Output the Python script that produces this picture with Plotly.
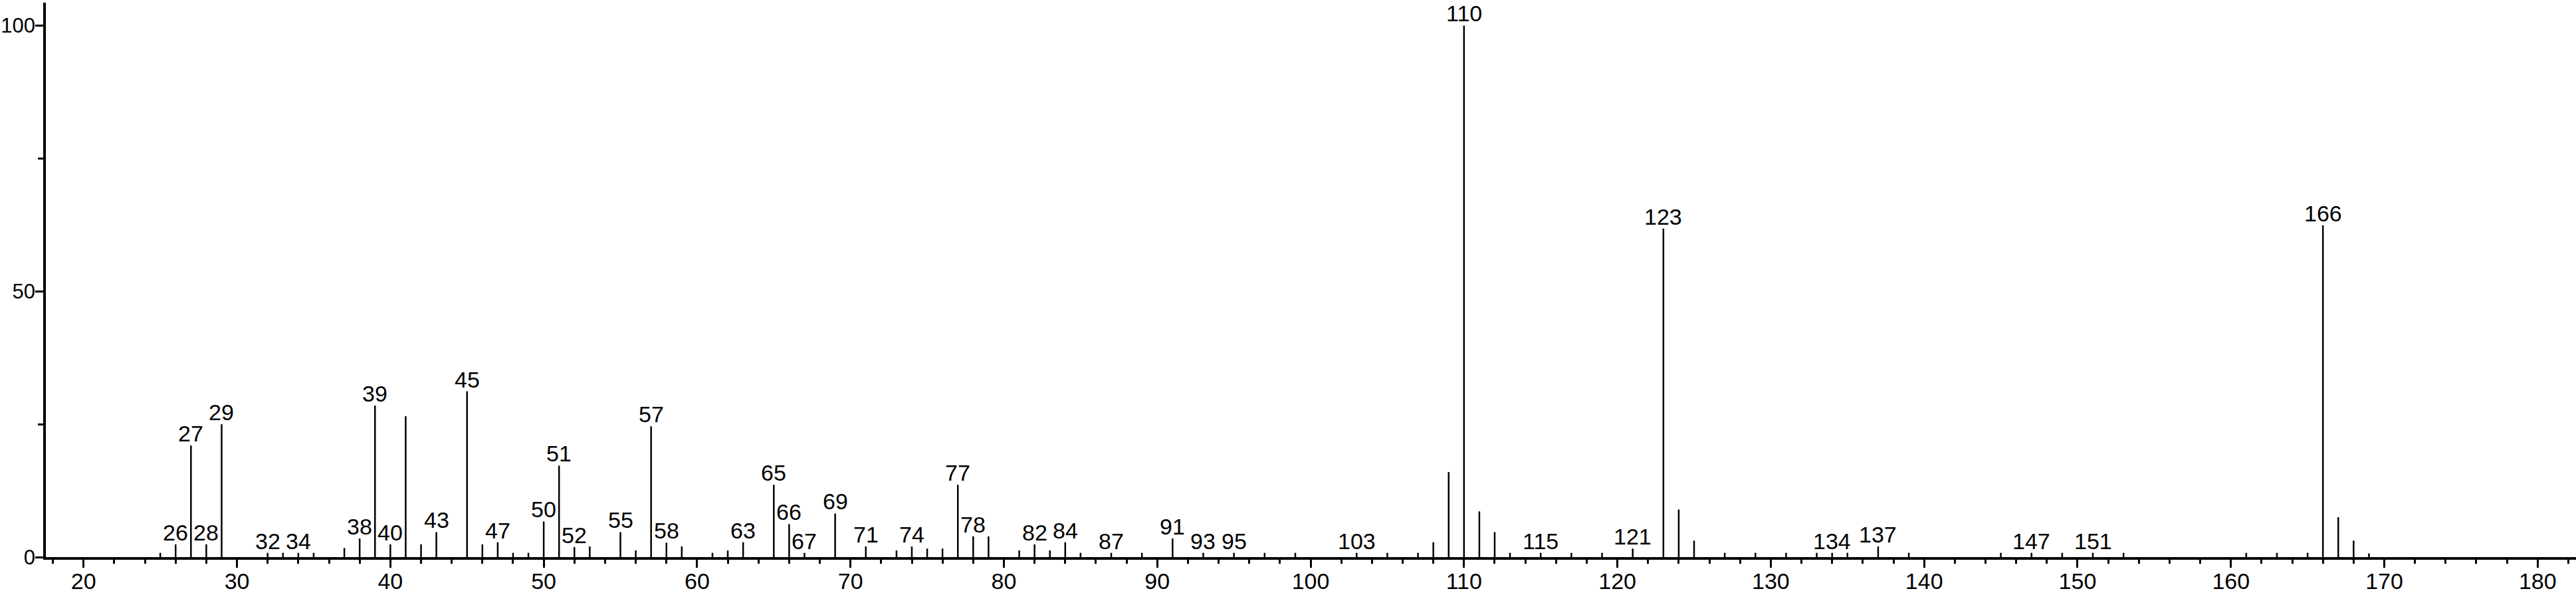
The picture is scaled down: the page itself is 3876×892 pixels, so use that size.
import plotly.graph_objects as go

# m/z values and relative intensities (%)
mz = [25, 26, 27, 28, 29, 32, 33, 34, 35, 37, 38, 39, 40, 41, 42, 43, 45, 46, 47, 48, 49,
      50, 51, 52, 53, 55, 56, 57, 58, 59, 61, 62, 63, 65, 66, 67, 69, 71, 73, 74, 75, 76,
      77, 78, 79, 81, 82, 83, 84, 85, 87, 89, 91, 93, 95, 97, 99, 103, 105, 107, 108, 109,
      110, 111, 112, 113, 115, 117, 119, 121, 123, 124, 125, 127, 129, 131, 133, 134, 135,
      137, 139, 145, 147, 149, 151, 153, 161, 163, 165, 166, 167, 168, 169]
intensity = [0.8, 2.4, 21.0, 2.4, 25.0, 0.8, 0.8, 0.8, 0.8, 1.7, 3.5, 28.5, 2.4, 26.5, 2.4, 4.7,
             31.2, 2.4, 2.8, 0.8, 0.8, 6.7, 17.2, 1.9, 2.0, 4.7, 1.25, 24.6, 2.7, 2.0, 0.8,
             1.25, 2.8, 13.6, 6.2, 0.8, 8.2, 2.0, 1.25, 2.0, 1.6, 1.6, 13.6, 3.9, 3.9, 1.25,
             2.4, 1.25, 2.8, 0.8, 0.8, 0.8, 3.5, 0.8, 0.8, 0.8, 0.8, 0.8, 0.8, 0.8, 2.8, 16.0,
             100.0, 8.6, 4.7, 0.8, 0.8, 0.8, 0.8, 1.6, 61.8, 8.95, 3.1, 0.8, 0.8, 0.8, 0.8,
             0.8, 0.8, 2.0, 0.8, 0.8, 0.8, 0.8, 0.8, 0.8, 0.8, 0.8, 0.8, 62.4, 7.5, 3.1, 0.7]

labelled_mz = [26, 27, 28, 29, 32, 34, 38, 39, 40, 43, 45, 47, 50, 51, 52, 55, 57, 58, 63, 65,
               66, 67, 69, 71, 74, 77, 78, 82, 84, 87, 91, 93, 95, 103, 110, 115, 121, 123,
               134, 137, 147, 151, 166]

x_ticks = [20, 30, 40, 50, 60, 70, 80, 90, 100, 110, 120, 130, 140, 150, 160, 170, 180]
y_ticks = [0, 50, 100]

FONT = "Liberation Sans, Arial, Helvetica, sans-serif"

# stick spectrum built from the arrays
xs, ys = [], []
for m, v in zip(mz, intensity):
    xs += [m, m, None]
    ys += [0, v, None]

fig = go.Figure()
fig.add_trace(go.Scatter(x=xs, y=ys, mode="lines",
                         line=dict(color="black", width=2.5),
                         hoverinfo="skip", showlegend=False))

lookup = dict(zip(mz, intensity))
for m in labelled_mz:
    fig.add_annotation(x=m, y=lookup[m], text=str(m), showarrow=False,
                       xanchor="center", yanchor="bottom", yshift=-3,
                       font=dict(family=FONT, size=34, color="black"))

fig.update_layout(
    width=3876, height=892,
    margin=dict(l=69, r=0, t=4, b=54),
    plot_bgcolor="white", paper_bgcolor="white",
    font=dict(family=FONT, size=35, color="black"),
    showlegend=False,
)
fig.update_xaxes(range=[17.54, 182.5], showgrid=False, zeroline=False, automargin=False,
                 showline=True, linecolor="black", linewidth=3.5,
                 tickmode="array", tickvals=x_ticks, ticktext=[str(t) for t in x_ticks],
                 ticks="outside", ticklen=12, tickwidth=3, tickcolor="black",
                 ticklabelstandoff=-9,
                 tickfont=dict(family=FONT, size=34, color="black"),
                 minor=dict(dtick=2, tick0=0, ticks="outside", ticklen=6, tickwidth=3,
                            tickcolor="black", showgrid=False))
fig.update_yaxes(range=[0, 104.3], showgrid=False, zeroline=False, automargin=False,
                 showline=True, linecolor="black", linewidth=3.5,
                 tickmode="array", tickvals=y_ticks, ticktext=[str(t) for t in y_ticks],
                 ticks="outside", ticklen=12, tickwidth=3, tickcolor="black",
                 ticklabelstandoff=-6,
                 tickfont=dict(family=FONT, size=31, color="black"),
                 minor=dict(tickvals=[25, 75], ticks="outside", ticklen=8, tickwidth=3,
                            tickcolor="black", showgrid=False))

fig.write_html("out.html", config={"displayModeBar": False},
               post_script="document.body.style.margin='0';document.body.style.overflow='hidden';")
